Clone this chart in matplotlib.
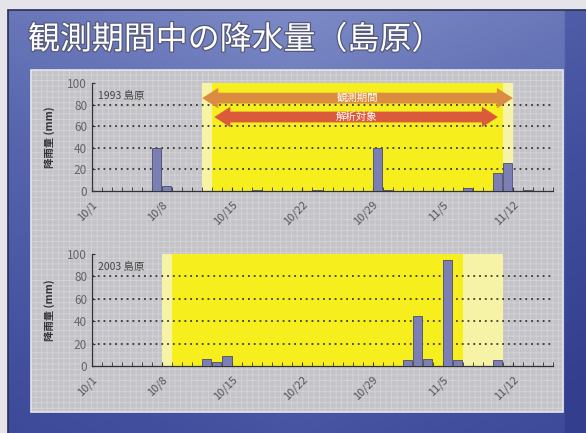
import numpy as np
import matplotlib
matplotlib.use("Agg")
import matplotlib.pyplot as plt
from matplotlib.patches import Rectangle, Polygon
from matplotlib.colors import LinearSegmentedColormap
import matplotlib.patheffects as pe

plt.rcParams['font.family'] = ['Noto Sans CJK JP', 'DejaVu Sans']
plt.rcParams['hatch.linewidth'] = 0.6

# days counted from 10/1
tick_days = [0, 7, 14, 21, 28, 35, 42]
tick_labels = ['10/1', '10/8', '10/15', '10/22', '10/29', '11/5', '11/12']

# 1993 Shimabara daily rainfall (mm)
days_1993 = [6, 7, 16, 22, 28, 29, 37, 40, 41, 43]
rain_1993 = [40, 5, 1, 1, 40, 1, 3, 17, 26, 1]
obs_1993 = (11, 42)       # 観測期間
target_1993 = (12, 41)    # 解析対象

# 2003 Shimabara daily rainfall (mm)
days_2003 = [11, 12, 13, 31, 32, 33, 35, 36, 40]
rain_2003 = [6, 3.5, 9, 5, 45, 6, 95, 5, 5]
obs_2003 = (7, 41)
target_2003 = (8, 37)

W, H = 586, 433
fig = plt.figure(figsize=(W / 100, H / 100), dpi=100)
fig.patch.set_facecolor('#e4e4ea')

# blue slide background
bg = fig.add_axes([8 / W, 0, 1 - 8 / W, 1 - 10 / H], zorder=-3)
yy, xx = np.mgrid[0:1:200j, 0:1:300j]
shade = 0.5 * yy + 0.3 * np.abs(xx - 0.5) + 0.25 * (xx > 0.965)
cmap = LinearSegmentedColormap.from_list('slide', ['#7c8ac6', '#5866ae', '#424f9e', '#333f8e'])
bg.imshow(shade, cmap=cmap, aspect='auto', extent=[0, 1, 1, 0], vmin=0, vmax=0.85)
bg.set_axis_off()
fig.patches.append(Rectangle((8 / W, -0.01), 1, 1 - 10 / H + 0.01, transform=fig.transFigure,
                             fill=False, edgecolor='#2a2f50', linewidth=1.2, zorder=-2.5))

# grey chart panel
panel = Rectangle((31 / W, 1 - 412 / H), (563 - 31) / W, (412 - 70) / H,
                  transform=fig.transFigure, facecolor='#c3c3c8',
                  edgecolor='#d4d4d8', hatch='+++', linewidth=0, zorder=-2)
fig.patches.append(panel)
fig.patches.append(Rectangle((31 / W, 1 - 412 / H), (563 - 31) / W, (412 - 70) / H,
                             transform=fig.transFigure, fill=False,
                             edgecolor='#e8e8ec', linewidth=1.2, zorder=-1.5))

fig.text(28 / W, 1 - 40 / H, '観測期間中の降水量（島原）', fontsize=23, color='white',
         va='center', ha='left',
         path_effects=[pe.withStroke(linewidth=1.8, foreground='#555a7a')])


def double_arrow(ax, x0, x1, y, color, text):
    body, head, hl = 10, 19, 1.6
    pts = [(x0, y), (x0 + hl, y + head / 2), (x0 + hl, y + body / 2),
           (x1 - hl, y + body / 2), (x1 - hl, y + head / 2), (x1, y),
           (x1 - hl, y - head / 2), (x1 - hl, y - body / 2),
           (x0 + hl, y - body / 2), (x0 + hl, y - head / 2)]
    ax.add_patch(Polygon(pts, closed=True, facecolor=color, edgecolor='none', zorder=4))
    ax.text((x0 + x1) / 2, y, text, color='white', fontsize=7.5, ha='center',
            va='center', zorder=5)


def rain_panel(rect, days, rain, obs, target, tag, xmax):
    ax = fig.add_axes(rect, zorder=0)
    ax.set_facecolor('none')
    ax.axvspan(obs[0], obs[1], color='#f6f3a6', zorder=1, lw=0)
    ax.axvspan(target[0], target[1], color='#f7ee1e', zorder=1.1, lw=0)
    for g in [20, 40, 60, 80]:
        ax.axhline(g, color='#3a3a2a', lw=1.3, ls=(0, (1, 2.2)), zorder=1.5)
    ax.bar(days, rain, width=0.92, align='edge', color='#7b7fb4',
           edgecolor='#4a4c70', linewidth=0.6, zorder=3)
    ax.set_xlim(0, xmax)
    ax.set_ylim(0, 100)
    ax.set_yticks([0, 20, 40, 60, 80, 100])
    ax.set_xticks(tick_days)
    ax.set_xticklabels(tick_labels, rotation=45, ha='right', rotation_mode='anchor')
    ax.set_xticks(np.arange(0, xmax + 1), minor=True)
    ax.tick_params(axis='x', which='both', direction='in', length=3, colors='#333',
                   labelcolor='#555', labelsize=8, pad=6)
    ax.tick_params(axis='y', direction='in', length=2, colors='#333',
                   labelcolor='#666', labelsize=8.5)
    for s in ['top', 'right']:
        ax.spines[s].set_visible(False)
    for s in ['left', 'bottom']:
        ax.spines[s].set_color('#333')
        ax.spines[s].set_linewidth(0.9)
    ax.text(0.6, 88, tag, fontsize=7.5, color='#444', ha='left', va='center', zorder=5)
    ax.set_ylabel('降雨量 (mm)', fontsize=7.5, color='#333', labelpad=9, fontweight='bold')
    return ax


top = rain_panel([92 / W, 1 - 191 / H, 461 / W, 108 / H], days_1993, rain_1993,
                 obs_1993, target_1993, '1993 島原', 46)
double_arrow(top, obs_1993[0], obs_1993[1], 86, '#dc8c40', '観測期間')
double_arrow(top, target_1993[0] + 0.2, target_1993[1] - 0.5, 68.5, '#dc5a3c', '解析対象')

bottom = rain_panel([92 / W, 1 - 366 / H, 461 / W, 112 / H], days_2003, rain_2003,
                    obs_2003, target_2003, '2003 島原', 46)

fig.savefig('out.png', dpi=100, facecolor=fig.get_facecolor())
